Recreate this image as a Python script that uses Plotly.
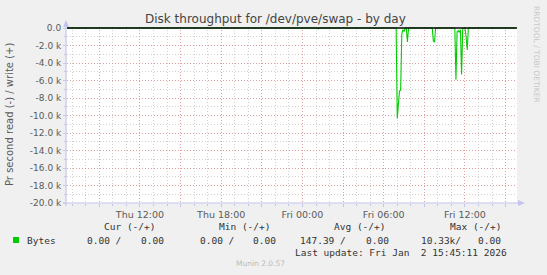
import plotly.graph_objects as go

# ---------------- data ----------------
sample_times = [
    "2026-01-01 06:30", "2026-01-02 01:05", "2026-01-02 01:10", "2026-01-02 01:15",
    "2026-01-02 06:55", "2026-01-02 07:00", "2026-01-02 07:05", "2026-01-02 07:10",
    "2026-01-02 07:15", "2026-01-02 07:20", "2026-01-02 07:25", "2026-01-02 07:30",
    "2026-01-02 07:35", "2026-01-02 07:40", "2026-01-02 07:45", "2026-01-02 07:50",
    "2026-01-02 09:35", "2026-01-02 09:40", "2026-01-02 09:45", "2026-01-02 09:50",
    "2026-01-02 11:15", "2026-01-02 11:20", "2026-01-02 11:25", "2026-01-02 11:30",
    "2026-01-02 11:35", "2026-01-02 11:40", "2026-01-02 11:45", "2026-01-02 11:50",
    "2026-01-02 11:55", "2026-01-02 12:00", "2026-01-02 12:05", "2026-01-02 12:10",
    "2026-01-02 12:15", "2026-01-02 15:45",
]
read_bytes = [
    0, 0, 100, 0,
    0, 10330, 8700, 7200,
    7100, 700, 200, 400,
    0, 0, 1600, 0,
    0, 1500, 1600, 0,
    0, 5900, 400, 300,
    500, 200, 5300, 100,
    0, 0, 1000, 2500,
    0, 0,
]
read_plot = [-v for v in read_bytes]  # reads are drawn below zero

x_tick_vals = ["2026-01-01 09:00", "2026-01-01 12:00", "2026-01-01 15:00", "2026-01-01 18:00",
               "2026-01-01 21:00", "2026-01-02 00:00", "2026-01-02 03:00", "2026-01-02 06:00",
               "2026-01-02 09:00", "2026-01-02 12:00", "2026-01-02 15:00"]
x_tick_text = ["", "Thu 12:00", "", "Thu 18:00", "", "Fri 00:00", "", "Fri 06:00", "",
               "Fri 12:00", ""]
y_tick_vals = [0, -2000, -4000, -6000, -8000, -10000, -12000, -14000, -16000, -18000, -20000]
y_tick_text = ["0.0", "-2.0 k", "-4.0 k", "-6.0 k", "-8.0 k", "-10.0 k", "-12.0 k",
               "-14.0 k", "-16.0 k", "-18.0 k", "-20.0 k"]

legend_headers = ["Cur (-/+)", "Min (-/+)", "Avg (-/+)", "Max (-/+)"]
legend_read = ["0.00 /", "0.00 /", "147.39 /", "10.33k/"]
legend_write = ["0.00", "0.00", "0.00", "0.00"]

# ---------------- layout geometry ----------------
W, H = 547, 275
L, R, T, B = 67, 30, 27, 72
PW, PH = W - L - R, H - T - B


def px(x):
    return (x - L) / PW


def py(y):
    return (H - B - y) / PH


GRID_RED = "rgba(240,120,120,0.55)"
GRID_GRAY = "rgba(185,185,185,0.65)"
AXIS_BLUE = "#c4c4ee"
TXT = "#5a5a5a"
MONO = "DejaVu Sans Mono"

fig = go.Figure()
fig.add_trace(go.Scatter(
    x=sample_times, y=read_plot, mode="lines",
    line=dict(color="#00cc00", width=1.1), showlegend=False, hoverinfo="skip",
))

fig.update_layout(
    width=W, height=H,
    margin=dict(l=L, r=R, t=T, b=B, pad=0),
    paper_bgcolor="#f0f0f0", plot_bgcolor="#ffffff",
    showlegend=False,
    font=dict(family="DejaVu Sans", size=9, color=TXT),
)

fig.update_xaxes(
    type="date",
    range=["2026-01-01 06:36:36", "2026-01-02 15:50:30"],
    tickmode="array", tickvals=x_tick_vals, ticktext=x_tick_text,
    tickfont=dict(family="DejaVu Sans", size=9.5, color=TXT),
    showgrid=True, gridcolor=GRID_RED, griddash="1px,2px", gridwidth=1,
    ticks="outside", ticklen=3, tickcolor=AXIS_BLUE,
    minor=dict(dtick=3600000, tick0="2026-01-01 00:00", showgrid=True,
               gridcolor=GRID_GRAY, griddash="1px,2px", ticks="outside",
               ticklen=2, tickcolor=AXIS_BLUE),
    showline=False, zeroline=False, fixedrange=True,
)
fig.update_yaxes(
    range=[-20000, 20000 / 175],
    tickmode="array", tickvals=y_tick_vals, ticktext=y_tick_text,
    tickfont=dict(family="DejaVu Sans", size=9, color=TXT),
    showgrid=True, gridcolor=GRID_RED, griddash="1px,2px", gridwidth=1,
    ticks="outside", ticklen=3, tickcolor=AXIS_BLUE,
    minor=dict(dtick=1000, tick0=0, showgrid=True, gridcolor=GRID_GRAY,
               griddash="1px,2px", ticks="outside", ticklen=2, tickcolor=AXIS_BLUE),
    showline=False, zeroline=False, fixedrange=True,
)

shapes = []
# zero line
shapes.append(dict(type="line", xref="paper", yref="y", x0=0, x1=1, y0=0, y1=0,
                   line=dict(color="#000000", width=1.6), layer="above"))
# axis lines with arrows
shapes.append(dict(type="line", xref="paper", yref="paper", x0=px(66), x1=px(66),
                   y0=py(206), y1=py(22), line=dict(color=AXIS_BLUE, width=1), layer="above"))
shapes.append(dict(type="line", xref="paper", yref="paper", x0=px(63), x1=px(520),
                   y0=py(203), y1=py(203), line=dict(color=AXIS_BLUE, width=1), layer="above"))
shapes.append(dict(type="path", xref="paper", yref="paper",
                   path=f"M {px(63)},{py(27)} L {px(69)},{py(27)} L {px(66)},{py(20)} Z",
                   fillcolor=AXIS_BLUE, line=dict(width=0), layer="above"))
shapes.append(dict(type="path", xref="paper", yref="paper",
                   path=f"M {px(518)},{py(200)} L {px(518)},{py(206)} L {px(525)},{py(203)} Z",
                   fillcolor=AXIS_BLUE, line=dict(width=0), layer="above"))
# legend colour box
shapes.append(dict(type="rect", xref="paper", yref="paper", x0=px(13), x1=px(19),
                   y0=py(243), y1=py(237), fillcolor="#00cc00", line=dict(width=0)))
fig.update_layout(shapes=shapes)

ann = []


def text(x, y, s, anchor="left", size=9.5, family=MONO, color="#333333", angle=0):
    ann.append(dict(xref="paper", yref="paper", x=px(x), y=py(y), text=s.replace(" ", "\u00a0"),
                    showarrow=False, xanchor=anchor, yanchor="middle", textangle=angle,
                    font=dict(family=family, size=size, color=color)))


text(275, 19, "Disk throughput for /dev/pve/swap - by day", anchor="center", size=12,
     family="DejaVu Sans", color="#444444")
ann.append(dict(xref="paper", yref="paper", x=px(10), y=py(114),
                text="Pr second read (-) / write (+)", showarrow=False, textangle=-90,
                xanchor="center", yanchor="middle",
                font=dict(family="DejaVu Sans", size=10, color=TXT)))
ann.append(dict(xref="paper", yref="paper", x=px(537), y=py(54),
                text="RRDTOOL / TOBI OETIKER", showarrow=False, textangle=90,
                xanchor="center", yanchor="middle",
                font=dict(family="DejaVu Sans", size=7.5, color="#c8c8c8")))

header_right = [157, 272, 387, 503]
read_right = [123, 236, 348, 463]
write_right = [166, 278, 391, 503]
for i in range(4):
    text(header_right[i], 227, legend_headers[i], anchor="right")
    text(read_right[i], 240, legend_read[i], anchor="right")
    text(write_right[i], 240, legend_write[i], anchor="right")
text(25, 240, "Bytes")
text(509, 252, "Last update: Fri Jan  2 15:45:11 2026", anchor="right")
text(260, 263, "Munin 2.0.57", anchor="center", size=7.5, family="DejaVu Sans", color="#bbbbbb")

fig.update_layout(annotations=ann)
fig.write_html("out.html")
